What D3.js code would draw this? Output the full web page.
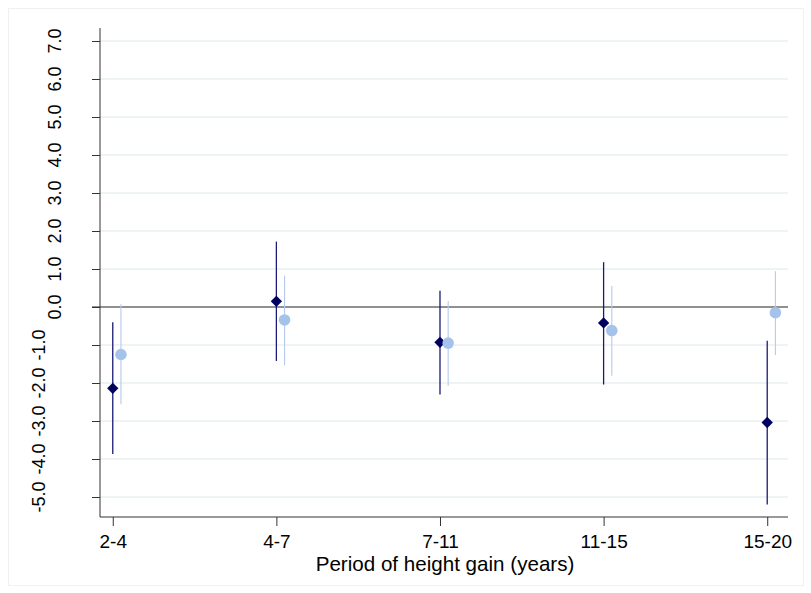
<!DOCTYPE html>
<html>
<head>
<meta charset="utf-8">
<script src="https://cdn.jsdelivr.net/npm/d3@7.9.0/dist/d3.min.js"></script>
<style>
  body { margin: 0; background: #fff; }
  svg { display: block; font-family: "Liberation Sans", Arial, sans-serif; }
</style>
</head>
<body>
<div id="chart"></div>
<script>
// categories on the x axis
const periods = ['2-4', '4-7', '7-11', '11-15', '15-20'];
const yTicks = [-5, -4, -3, -2, -1, 0, 1, 2, 3, 4, 5, 6, 7];

// series A (dark diamonds): estimate, lower, upper
const estA = [-2.14, 0.15, -0.93, -0.42, -3.04];
const loA  = [-3.87, -1.42, -2.30, -2.04, -5.20];
const hiA  = [-0.40, 1.72, 0.43, 1.18, -0.89];

// series B (light circles)
const estB = [-1.25, -0.34, -0.95, -0.62, -0.15];
const loB  = [-2.56, -1.53, -2.08, -1.81, -1.26];
const hiB  = [0.07, 0.82, 0.16, 0.55, 0.94];

const width = 811, height = 593;
const plot = { left: 100, right: 788, top: 28, bottom: 517 };

const svg = d3.select('#chart').append('svg')
  .attr('width', width)
  .attr('height', height);

// faint outer frame
svg.append('rect')
  .attr('x', 8.5).attr('y', 8.5)
  .attr('width', 795).attr('height', 577)
  .attr('fill', 'none')
  .attr('stroke', '#f0f0f0');

const x = d3.scaleLinear().domain([0.922, 5.127]).range([plot.left, plot.right]);
const y = d3.scaleLinear().domain([-5.526, 7.342]).range([plot.bottom, plot.top]);

// gridlines
svg.append('g')
  .selectAll('line').data(yTicks.filter(d => d !== 0)).join('line')
  .attr('x1', plot.left).attr('x2', plot.right)
  .attr('y1', d => y(d)).attr('y2', d => y(d))
  .attr('stroke', '#e9f1f2')
  .attr('stroke-width', 1.6);

// zero line
svg.append('line')
  .attr('x1', plot.left - 8).attr('x2', plot.right)
  .attr('y1', y(0)).attr('y2', y(0))
  .attr('stroke', '#222')
  .attr('stroke-width', 1);

// y axis
const yAxis = svg.append('g')
  .attr('transform', `translate(${plot.left},0)`)
  .call(d3.axisLeft(y).tickValues(yTicks).tickSize(8).tickFormat(''));
yAxis.select('.domain').attr('d', `M0,${plot.top}V${plot.bottom}`).attr('stroke', '#333');
yAxis.selectAll('.tick line').attr('stroke', '#333');

// rotated y labels (plain hyphen for the minus sign)
svg.append('g')
  .selectAll('text').data(yTicks).join('text')
  .attr('transform', d => `translate(${d < 0 ? 45 : 61},${y(d)}) rotate(-90)`)
  .attr('text-anchor', 'middle')
  .attr('font-size', 18)
  .attr('fill', '#000')
  .text(d => d.toFixed(1));

// x axis
const xAxis = svg.append('g')
  .attr('transform', `translate(0,${plot.bottom})`)
  .call(d3.axisBottom(x).tickValues([1, 2, 3, 4, 5]).tickSize(9)
    .tickFormat((d, i) => periods[i]));
xAxis.select('.domain').attr('d', `M${plot.left},0H${plot.right}`).attr('stroke', '#333');
xAxis.selectAll('.tick line').attr('stroke', '#333');
xAxis.selectAll('.tick text')
  .attr('y', 31).attr('dy', 0)
  .attr('font-size', 19)
  .attr('fill', '#000');

svg.append('text')
  .attr('x', 445).attr('y', 571)
  .attr('text-anchor', 'middle')
  .attr('font-size', 20.6)
  .text('Period of height gain (years)');

// series B (light) confidence lines and circles
const offB = 0.05;
svg.append('g')
  .selectAll('line').data(periods).join('line')
  .attr('x1', (d, i) => x(i + 1 + offB)).attr('x2', (d, i) => x(i + 1 + offB))
  .attr('y1', (d, i) => y(loB[i])).attr('y2', (d, i) => y(hiB[i]))
  .attr('stroke', '#b6cbec')
  .attr('stroke-width', 1.1);

// series A confidence lines
svg.append('g')
  .selectAll('line').data(periods).join('line')
  .attr('x1', (d, i) => x(i + 1)).attr('x2', (d, i) => x(i + 1))
  .attr('y1', (d, i) => y(loA[i])).attr('y2', (d, i) => y(hiA[i]))
  .attr('stroke', '#1a1a78')
  .attr('stroke-width', 1.3);

svg.append('g')
  .selectAll('path').data(periods).join('path')
  .attr('d', d3.symbol(d3.symbolSquare, 64))
  .attr('transform', (d, i) => `translate(${x(i + 1)},${y(estA[i])}) rotate(45)`)
  .attr('fill', '#000060');

svg.append('g')
  .selectAll('circle').data(periods).join('circle')
  .attr('cx', (d, i) => x(i + 1 + offB))
  .attr('cy', (d, i) => y(estB[i]))
  .attr('r', 5.8)
  .attr('fill', '#a5c3ea');
</script>
</body>
</html>
